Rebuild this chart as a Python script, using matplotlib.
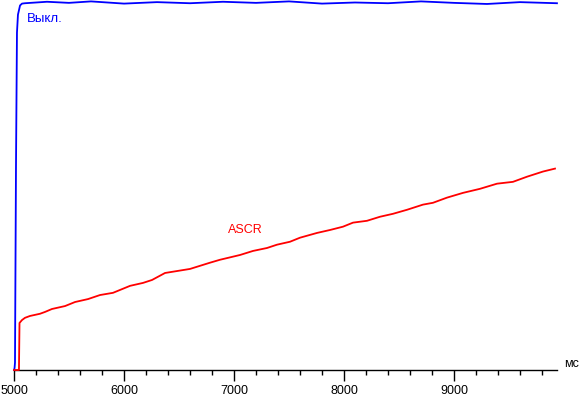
import matplotlib
matplotlib.use("Agg")
import matplotlib.pyplot as plt
from matplotlib.ticker import MultipleLocator

plt.rcParams['font.family'] = ['Liberation Sans', 'DejaVu Sans']

# Data (time in ms, brightness in % of max)
blue_t = [5000, 5005, 5009, 5018, 5027, 5036, 5055, 5073, 5100, 5300, 5500, 5700,
          6000, 6300, 6600, 6900, 7200, 7500, 7800, 8100, 8400, 8700, 9000, 9300,
          9600, 9936]
blue_v = [0.0, 0.5, 2.0, 55.0, 91.8, 96.7, 99.2, 99.7, 99.8, 100.2, 99.9, 100.3,
          99.7, 100.1, 99.8, 100.2, 99.9, 100.3, 99.7, 100.0, 99.8, 100.3, 99.9, 99.6,
          100.1, 99.8]

red_t = [5000, 5045, 5050, 5073, 5100, 5145, 5236, 5282, 5345, 5464, 5555, 5673,
         5782, 5900, 6055, 6173, 6255, 6373, 6600, 6782, 6873, 7055, 7173, 7300,
         7391, 7509, 7600, 7755, 7873, 7991, 8082, 8209, 8327, 8445, 8573, 8718,
         8809, 8936, 9082, 9236, 9391, 9536, 9664, 9809, 9918]
red_v = [0.0, 0.0, 12.8, 13.6, 14.2, 14.7, 15.3, 15.8, 16.6, 17.4, 18.5, 19.3,
         20.4, 21.0, 22.9, 23.7, 24.5, 26.4, 27.5, 29.2, 30.0, 31.3, 32.4, 33.2,
         34.1, 34.9, 36.0, 37.3, 38.1, 39.0, 40.1, 40.6, 41.7, 42.5, 43.6, 45.0,
         45.5, 46.9, 48.2, 49.3, 50.7, 51.2, 52.6, 54.0, 54.8]

xticks = [5000, 6000, 7000, 8000, 9000]
xtick_labels = ["5000", "6000", "7000", "8000", "9000"]

fig = plt.figure(figsize=(5.79, 3.96), dpi=100)
ax = fig.add_axes([14 / 579, 26 / 396, (557.4 - 14) / 579, 370 / 396])

ax.plot(blue_t, blue_v, color='#0000FF', lw=1.3, zorder=3, clip_on=False)
ax.plot(red_t, red_v, color='#FF0000', lw=1.3, zorder=3, clip_on=False)

ax.set_xlim(5000, 9940)
ax.set_ylim(0, 100.68)

for s in ['top', 'left', 'right']:
    ax.spines[s].set_visible(False)
ax.spines['bottom'].set_linewidth(1.0)
ax.spines['bottom'].set_color('black')

ax.set_yticks([])
ax.set_xticks(xticks)
ax.set_xticklabels(xtick_labels, fontsize=9)
ax.xaxis.set_minor_locator(MultipleLocator(200))
ax.tick_params(axis='x', which='major', direction='out', length=8, width=1.0, pad=2.5, colors='black')
ax.tick_params(axis='x', which='minor', direction='out', length=3.6, width=1.0)

ax.text(5118, 95.5, "Выкл.", color='#0000FF', fontsize=9.5, ha='left', va='center')
ax.text(7100, 38.1, "ASCR", color='#FF0000', fontsize=9, ha='center', va='center')
ax.text(10073, 1.6, "мс", color='black', fontsize=9, ha='center', va='center', clip_on=False)

fig.savefig("out.png", dpi=100)
